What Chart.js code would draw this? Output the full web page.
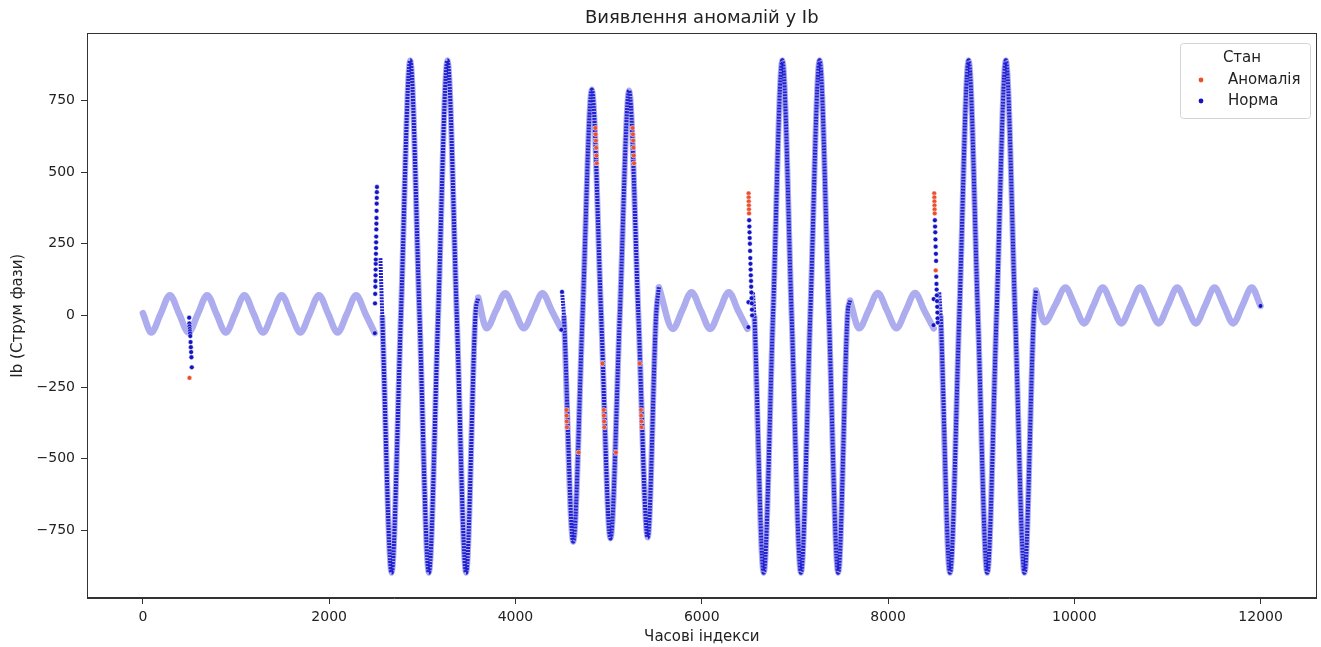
<!DOCTYPE html>
<html>
<head>
<meta charset="utf-8">
<script src="https://cdn.jsdelivr.net/npm/chart.js@4.4.1/dist/chart.umd.min.js"></script>
<style>
  html, body { margin: 0; padding: 0; background: #fff; }
</style>
</head>
<body>
<canvas id="plot" width="1321" height="647"></canvas>
<script>
const FONT = "'DejaVu Sans', sans-serif";

const chartTitle = 'Виявлення аномалій у Ib';
const xTicks = [0, 2000, 4000, 6000, 8000, 10000, 12000];
const yTicks = [-750, -500, -250, 0, 250, 500, 750];
const legendLabels = ['Аномалія', 'Норма'];

// quiet stretches (small current), key points
const calm1Idx = [0, 90, 190, 290, 390, 490, 590, 690, 790, 890, 990, 1090, 1190, 1290, 1390, 1490, 1590, 1690, 1790, 1890, 1990, 2090, 2190, 2290, 2390, 2490];
const calm1Val = [8, -60, 5, 70, 5, -60, 5, 70, 5, -60, 5, 70, 5, -60, 5, 70, 5, -60, 5, 70, 5, -60, 5, 70, 5, -62];
const calm2Idx = [3600, 3690, 3790, 3890, 3990, 4090, 4190, 4290, 4390, 4490];
const calm2Val = [62, -45, 16, 77, 16, -45, 16, 77, 16, -47];
const calm3Idx = [5540, 5690, 5790, 5890, 5990, 6090, 6190, 6290, 6390, 6490];
const calm3Val = [98, -47, 17, 81, 17, -47, 17, 81, 17, -47];
const calm4Idx = [7592, 7690, 7790, 7890, 7990, 8090, 8190, 8290, 8390, 8490];
const calm4Val = [52, -45, 16, 78, 16, -45, 16, 78, 16, -45];
const calm5Idx = [9588, 9680, 9795, 9905, 10005, 10105, 10205, 10305, 10405, 10505, 10605, 10705, 10805, 10905, 11005, 11105, 11205, 11305, 11405, 11505, 11605, 11705, 11805, 11905, 11999];
const calm5Val = [87, -24, 36, 97, 35, -28, 35, 97, 35, -28, 35, 97, 35, -28, 35, 97, 35, -28, 35, 97, 35, -28, 35, 97, 33];

// high-current stretches
const surge1Idx = [2550, 2570, 2670, 2770, 2870, 2970, 3070, 3170, 3270, 3370, 3470, 3570, 3600];
const surge1Val = [200, 0, -898, 0, 890, 0, -898, 0, 890, 0, -898, 0, 62];
const surge2Idx = [4500, 4520, 4620, 4720, 4820, 4920, 5020, 5120, 5220, 5320, 5420, 5510, 5540];
const surge2Val = [82, 0, -790, 0, 788, 0, -778, 0, 785, 0, -775, 0, 98];
const surge3Idx = [6550, 6565, 6665, 6765, 6865, 6965, 7065, 7165, 7265, 7365, 7465, 7565, 7592];
const surge3Val = [80, 0, -898, 0, 890, 0, -898, 0, 890, 0, -898, 0, 52];
const surge4Idx = [8550, 8565, 8665, 8765, 8865, 8965, 9065, 9165, 9265, 9365, 9465, 9565, 9588];
const surge4Val = [80, 0, -898, 0, 890, 0, -898, 0, 890, 0, -898, 0, 87];

// loose "normal" samples around the switching moments
const normDotIdx = [497, 499, 501, 503, 505, 507, 509, 512, 515, 518, 521, 525,
  2490, 2492, 2494, 2496, 2497, 2498, 2499, 2500, 2501, 2502, 2503, 2504, 2505, 2506, 2507, 2508, 2509, 2510, 2511, 2512, 2513,
  4493, 4500,
  6500, 6502, 6509, 6511, 6513, 6515, 6517, 6519, 6521, 6523, 6525, 6527, 6529, 6531, 6533, 6535, 6537, 6539, 6541,
  8488, 8490, 8503, 8505, 8507, 8509, 8511, 8514, 8516, 8518, 8520, 8522, 8524, 8526, 8528, 8530, 8532, 8534,
  11999];
const normDotVal = [-8, -28, -38, -47, -55, -63, -72, -93, -111, -128, -146, -181,
  -62, 42, 75, 100, 120, 140, 160, 180, 195, 215, 235, 255, 275, 300, 320, 340, 365, 390, 410, 430, 448,
  -50, 82,
  -41, 46, 332, 310, 290, 270, 250, 225, 200, 180, 160, 140, 120, 100, 80, 60, 42, 20, 0,
  -34, 57, 332, 310, 290, 265, 240, 215, 190, 135, 110, 90, 70, 50, 30, 10, -10, -25,
  33];

// anomalies
const anomIdx = [500, 4547, 4549, 4551, 4553, 4679, 4858, 4861, 4864, 4867, 4870, 4873,
  4934, 4948, 4950, 4952, 4954, 5078, 5258, 5261, 5264, 5267, 5270, 5273,
  5334, 5348, 5350, 5352, 5354, 6503, 6504, 6505, 6506, 6507, 6508,
  8496, 8497, 8498, 8499, 8500, 8501, 8512];
const anomVal = [-218, -330, -350, -370, -390, -478, 654, 632, 610, 585, 558, 531,
  -168, -330, -350, -370, -390, -478, 654, 632, 610, 585, 558, 531,
  -168, -330, -350, -370, -390, 426, 412, 398, 384, 370, 356,
  426, 412, 398, 384, 370, 356, 157];

const BAND = 'rgb(172,172,238)';
const DARK = 'rgb(32,32,210)';
const RED = 'rgb(236,78,48)';
const BLUE = 'rgb(20,20,196)';

function pts(xs, ys) {
  return xs.map((x, i) => ({x: x, y: ys[i]}));
}

const calmRuns = [[calm1Idx, calm1Val], [calm2Idx, calm2Val], [calm3Idx, calm3Val], [calm4Idx, calm4Val], [calm5Idx, calm5Val]];
const surgeRuns = [[surge1Idx, surge1Val], [surge2Idx, surge2Val], [surge3Idx, surge3Val], [surge4Idx, surge4Val]];

let datasets = [];
datasets.push({
  type: 'scatter', label: legendLabels[0], data: pts(anomIdx, anomVal),
  pointRadius: 2.4, backgroundColor: RED, borderColor: '#fff', borderWidth: 0.5, order: 1
});
datasets.push({
  type: 'scatter', label: legendLabels[1], data: pts(normDotIdx, normDotVal),
  pointRadius: 2.4, backgroundColor: BLUE, borderColor: '#fff', borderWidth: 0.5, order: 2
});
surgeRuns.forEach(r => {
  datasets.push({
    type: 'line', data: pts(r[0], r[1]), borderColor: DARK, borderWidth: 4,
    borderDash: [2, 1], pointRadius: 0, cubicInterpolationMode: 'monotone', order: 3
  });
  // light halo only from the first zero crossing on
  datasets.push({
    type: 'line', data: pts(r[0].slice(1), r[1].slice(1)), borderColor: BAND, borderWidth: 6,
    pointRadius: 0, cubicInterpolationMode: 'monotone', order: 4
  });
});
calmRuns.forEach(r => {
  datasets.push({
    type: 'line', data: pts(r[0], r[1]), borderColor: BAND, borderWidth: 6.5,
    borderCapStyle: 'round', borderJoinStyle: 'round',
    pointRadius: 0, cubicInterpolationMode: 'monotone', order: 4
  });
});

function fmt(v) {
  return v < 0 ? '\u2212' + Math.abs(v) : String(v);
}

const frame = {
  id: 'frame',
  afterDatasetsDraw(chart) {
    const {ctx, chartArea: a} = chart;
    ctx.save();
    ctx.strokeStyle = '#333';
    ctx.lineWidth = 1;
    ctx.strokeRect(Math.round(a.left) + 0.5, Math.round(a.top) + 0.5,
      Math.round(a.right - a.left) - 1, Math.round(a.bottom - a.top) - 1);
    // title, centred over the plot area like the original
    ctx.fillStyle = '#222';
    ctx.font = '18px ' + FONT;
    ctx.textAlign = 'center';
    ctx.textBaseline = 'middle';
    ctx.fillText(chartTitle, (a.left + a.right) / 2, 18);
    ctx.restore();
  }
};

const legendBox = {
  id: 'legendBox',
  afterDraw(chart) {
    const {ctx, chartArea: a} = chart;
    const w = 130, h = 75;
    const x0 = Math.round(a.right - 7 - w), y0 = Math.round(a.top + 10);
    ctx.save();
    ctx.fillStyle = 'rgba(255,255,255,0.8)';
    ctx.strokeStyle = '#d4d4d4';
    ctx.lineWidth = 1;
    ctx.beginPath();
    ctx.roundRect(x0 + 0.5, y0 + 0.5, w, h, 3);
    ctx.fill();
    ctx.stroke();
    ctx.fillStyle = '#222';
    ctx.font = '15px ' + FONT;
    ctx.textBaseline = 'middle';
    ctx.textAlign = 'center';
    ctx.fillText('Стан', x0 + w / 2 - 3, y0 + 15);
    ctx.textAlign = 'left';
    const colors = [RED, BLUE];
    legendLabels.forEach((lab, i) => {
      const yy = y0 + 37 + i * 21;
      ctx.beginPath();
      ctx.arc(x0 + 21, yy, 2.4, 0, Math.PI * 2);
      ctx.fillStyle = colors[i];
      ctx.fill();
      ctx.fillStyle = '#222';
      ctx.fillText(lab, x0 + 48, yy);
    });
    ctx.restore();
  }
};

new Chart(document.getElementById('plot'), {
  type: 'scatter',
  data: {datasets: datasets},
  options: {
    responsive: false,
    animation: false,
    events: [],
    layout: {padding: {left: 0, right: 4, top: 33.4, bottom: 0}},
    plugins: {
      legend: {display: false},
      tooltip: {enabled: false},
      title: {display: false}
    },
    scales: {
      x: {
        type: 'linear', min: -600, max: 12600,
        afterBuildTicks: s => { s.ticks = xTicks.map(v => ({value: v})); },
        afterFit: s => { s.height = 49; },
        grid: {drawOnChartArea: false, drawTicks: true, tickLength: 6, color: '#333'},
        border: {color: '#333', width: 1},
        ticks: {color: '#222', font: {family: FONT, size: 14}, padding: 5, maxRotation: 0, callback: v => fmt(v)},
        title: {display: true, text: 'Часові індекси', color: '#222',
          font: {family: FONT, size: 15}, padding: {top: 0, bottom: 1}}
      },
      y: {
        type: 'linear', min: -986, max: 984,
        afterBuildTicks: s => { s.ticks = yTicks.map(v => ({value: v})); },
        afterFit: s => { s.width = 87; },
        grid: {drawOnChartArea: false, drawTicks: true, tickLength: 6, color: '#333'},
        border: {color: '#333', width: 1},
        ticks: {color: '#222', font: {family: FONT, size: 14}, padding: 6, callback: v => fmt(v)},
        title: {display: true, text: 'Ib (Струм фази)', color: '#222',
          font: {family: FONT, size: 15}, padding: {top: 9, bottom: 0}}
      }
    }
  },
  plugins: [frame, legendBox]
});
</script>
</body>
</html>
